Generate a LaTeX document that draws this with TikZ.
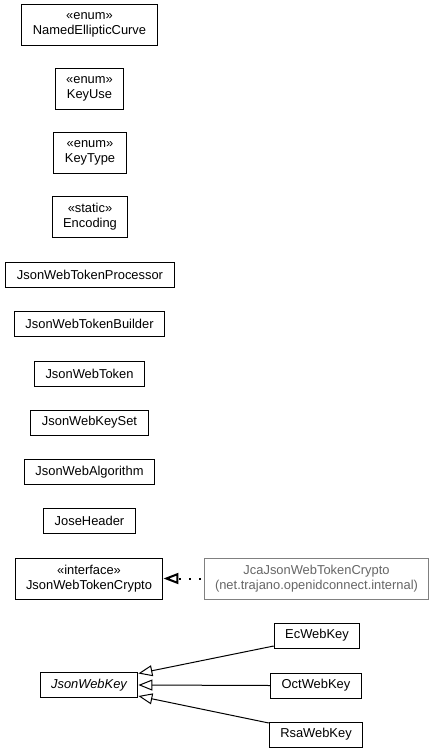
\documentclass[tikz,border=0pt]{standalone}
\usepackage{fontspec}
\setmainfont{Liberation Sans}
\usetikzlibrary{arrows.meta}

\begin{document}
\begin{tikzpicture}[x=1pt, y=-1pt,
    cls/.style={draw, line width=1pt, fill=white, minimum height=25pt, inner xsep=11pt, font=\fontsize{12.9}{15}\selectfont},
    stereo/.style={cls, minimum height=41pt, align=center},
    ext/.style={stereo, draw=black!50, text=black!60},
    gen/.style={-{Triangle[open, length=14pt, width=11pt]}, line width=1pt},
    real/.style={-{Triangle[open, length=15pt, width=11pt, line width=2pt]}, line width=2pt, dash pattern=on 2pt off 8pt, dash phase=7pt}]
    \useasboundingbox (0,0) rectangle (435,753);

    % stereotyped classes on top
    \node[stereo] (nec) at (89.5,25) {«enum»\\NamedEllipticCurve};
    \node[stereo] (kuse) at (89.5,89) {«enum»\\KeyUse};
    \node[stereo] (ktype) at (90,153) {«enum»\\KeyType};
    \node[stereo] (enc) at (90,217) {«static»\\Encoding};

    % plain classes
    \node[cls] (proc) at (90,274.5) {JsonWebTokenProcessor};
    \node[cls] (bld) at (89.5,324) {JsonWebTokenBuilder};
    \node[cls] (tok) at (89.5,373.5) {JsonWebToken};
    \node[cls] (kset) at (89.5,422.5) {JsonWebKeySet};
    \node[cls] (alg) at (89.5,472) {JsonWebAlgorithm};
    \node[cls] (jose) at (89.5,521) {JoseHeader};

    % interface and its implementation
    \node[stereo] (crypto) at (89,578.5) {«interface»\\JsonWebTokenCrypto};
    \node[ext] (jca) at (316.5,578.5) {JcaJsonWebTokenCrypto\\(net.trajano.openidconnect.internal)};
    \draw[real] (jca.west) -- (crypto.east);

    % key hierarchy
    \node[cls, font=\fontsize{12.9}{15}\selectfont\itshape] (jwk) at (89,685) {JsonWebKey};
    \node[cls] (ec) at (317,635.5) {EcWebKey};
    \node[cls] (oct) at (316,685.5) {OctWebKey};
    \node[cls] (rsa) at (316,734.5) {RsaWebKey};
    \draw[gen] ([yshift=2.5pt]ec.south west) -- ([yshift=-1.5pt]jwk.north east);
    \draw[gen] (oct.west) -- (jwk.east);
    \draw[gen] ([yshift=-1.5pt]rsa.north west) -- ([yshift=2pt]jwk.south east);
\end{tikzpicture}
\end{document}
